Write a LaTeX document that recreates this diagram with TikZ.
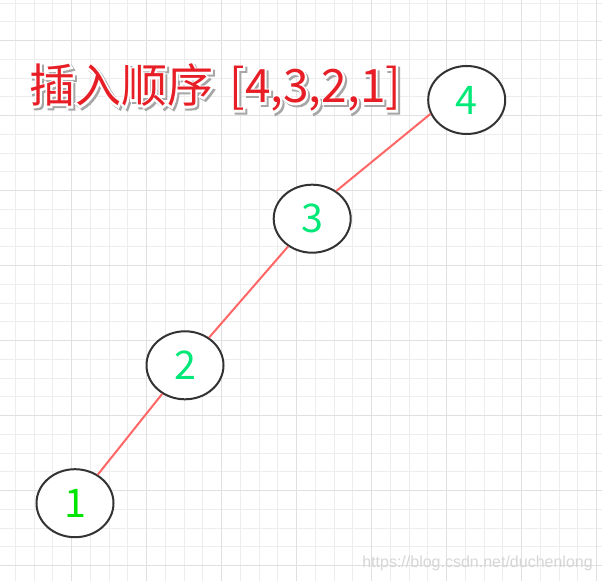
\documentclass[tikz,border=0pt]{standalone}
\usepackage{fontspec}
\setmainfont{Liberation Sans}
\newfontfamily\cjk{Noto Sans CJK SC}
\newfontfamily\cjkhalo[FakeBold=8]{Noto Sans CJK SC}
\usepackage{tikz}
\usetikzlibrary{shapes.geometric, positioning, calc}

\definecolor{titlered}{RGB}{232,30,38}
\definecolor{linkred}{RGB}{255,102,102}
\definecolor{keylime}{RGB}{0,230,0}
\definecolor{keygreen}{RGB}{0,232,120}
\definecolor{borderdark}{RGB}{51,51,51}

\newcommand{\titlestr}{插入顺序\kern4.5pt\ [4,3,2,1]}

\begin{document}
\begin{tikzpicture}[
  x=0.75pt, y=0.75pt,
  gridminor/.style={line width=0.75pt, black!7},
  gridmajor/.style={line width=0.75pt, black!12},
  keynode/.style={draw=borderdark, ellipse, line width=1.5pt, fill=white, minimum width=57.75pt, minimum height=51pt, inner sep=0pt, font=\cjk\fontsize{29.6}{32}\selectfont},
  link/.style={linkred, line width=1.5pt},
  titletext/.style={anchor=base west, inner sep=0pt, font=\cjk\fontsize{34.5}{40}\selectfont},
  titlehalo/.style={anchor=base west, inner sep=0pt, font=\cjkhalo\fontsize{34.5}{40}\selectfont},
  watermark/.style={anchor=base east, inner sep=0pt, text=black!16, font=\fontsize{12}{14}\selectfont}
]
\useasboundingbox[fill=white] (0,0) rectangle (602,581);

% grid
\foreach \i in {0,...,31}
  \draw[gridminor] ({15.45+18.75*\i},0) -- ({15.45+18.75*\i},581);
\foreach \j in {0,...,30}
  \draw[gridminor] (0,{577.8-18.75*\j}) -- (602,{577.8-18.75*\j});
\foreach \i in {3,7,...,31}
  \draw[gridmajor] ({15.45+18.75*\i},0) -- ({15.45+18.75*\i},581);
\foreach \j in {2,6,...,30}
  \draw[gridmajor] (0,{577.8-18.75*\j}) -- (602,{577.8-18.75*\j});

% title, with shadow and white halo
\node[titlehalo, text=black!35] (Title_Shadow) at (31,476) {\titlestr};
\node[titlehalo, text=white] (Title_Halo) at (29,478) {\titlestr};
\node[titletext, text=titlered] (Title) at (29,478) {\titlestr};

% keys
\node[keynode, text=keygreen] (Key_4) at (466.7,481) {4};
\node[keynode, text=keygreen] (Key_3) at (312.2,362.3) {3};
\node[keynode, text=keygreen] (Key_2) at (185,215.7) {2};
\node[keynode, text=keylime] (Key_1) at (75,77.8) {1};

\draw[link] (Key_4.201) -- (Key_3.49);
\draw[link] (Key_3) -- (Key_2);
\draw[link] (Key_2) -- (Key_1);

\node[watermark] (Mark) at (593,14) {https://blog.csdn.net/duchenlong};
\end{tikzpicture}
\end{document}
